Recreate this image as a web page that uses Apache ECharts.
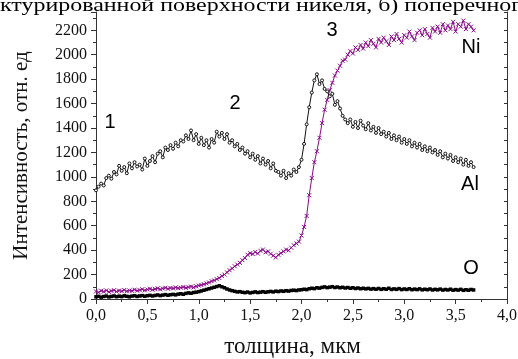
<!DOCTYPE html>
<html><head><meta charset="utf-8">
<script src="https://cdn.jsdelivr.net/npm/echarts@6/dist/echarts.min.js"></script>
<style>html,body{margin:0;padding:0;background:#fff}#c{width:518px;height:359px}</style>
</head><body><div id="c"></div>
<script>
// depth sampling step (µm); values below are read at depth = index * step
const depthStep = 0.025;
const xTicks = ['0,0','0,5','1,0','1,5','2,0','2,5','3,0','3,5','4,0'];
const yTicks = [0,200,400,600,800,1000,1200,1400,1600,1800,2000,2200];
const labels = ['1','2','3','Ni','Al','O'];

const alValues = [890,920,945,930,990,1010,985,1040,1020,1090,1050,1080,1030,1110,1070,1120,1085,1100,1060,1150,
1090,1130,1170,1120,1190,1210,1160,1240,1220,1260,1230,1280,1250,1300,1290,1340,1310,1380,1300,1350,
1270,1320,1260,1300,1240,1310,1280,1370,1330,1360,1310,1350,1280,1300,1250,1270,1220,1240,1190,1210,
1160,1190,1140,1170,1110,1150,1100,1130,1070,1110,1050,1040,1010,1050,990,1030,1010,1060,1040,1080,
1140,1270,1430,1570,1690,1790,1840,1760,1790,1720,1700,1660,1680,1590,1620,1560,1500,1470,1440,1470,
1410,1450,1400,1460,1420,1390,1440,1380,1410,1360,1400,1350,1370,1330,1360,1310,1340,1300,1330,1280,
1310,1270,1300,1250,1280,1240,1270,1220,1250,1210,1240,1200,1220,1180,1210,1160,1190,1150,1180,1130,
1160,1120,1150,1100,1140,1090,1120,1080];

const niValues = [62,55,68,60,70,58,66,72,61,69,64,74,63,70,67,76,68,73,80,71,
78,84,75,82,88,79,86,92,84,90,87,95,89,93,98,91,97,102,95,104,
110,115,121,128,135,146,152,163,172,188,200,218,236,250,268,282,296,318,335,362,
375,368,385,372,395,405,382,390,370,355,340,362,375,390,405,398,420,440,455,470,
520,590,680,850,990,1120,1210,1320,1440,1550,1630,1710,1770,1830,1870,1910,1950,1960,2000,2030,
2010,2060,2040,2080,2050,2100,2070,2120,2090,2060,2130,2100,2140,2110,2080,2150,2120,2170,2130,2100,
2160,2140,2190,2150,2120,2180,2200,2160,2210,2170,2140,2220,2190,2230,2180,2250,2200,2240,2210,2270,
2190,2250,2230,2280,2210,2250,2230,2200];

const oValues = [18,22,15,20,24,17,21,25,19,23,20,26,22,18,24,27,21,25,28,23,
27,30,25,29,33,28,32,36,31,35,38,34,40,43,39,46,50,47,53,56,
60,66,72,78,84,90,96,102,108,100,92,82,74,68,63,58,60,55,52,57,
50,54,58,53,56,60,55,59,62,58,64,61,66,63,68,65,70,72,69,74,
76,80,77,84,88,85,92,89,95,99,93,97,101,94,98,92,96,90,94,88,
92,86,90,84,88,83,87,81,85,80,86,79,84,80,88,78,83,79,85,77,
82,78,84,76,81,77,83,75,80,76,82,74,79,75,81,73,78,74,80,72,
77,73,79,71,76,72,78,74];

function pairs(vals){ return vals.map((v,i)=>[+(i*depthStep).toFixed(3), v]); }

const purple = '#8b0a8b';
const serif = '"Liberation Serif","Times New Roman",serif';
const sans = '"Liberation Sans",Arial,sans-serif';

const chart = echarts.init(document.getElementById('c'));
const xLabelMap = {}; xTicks.forEach((t,i)=>{ xLabelMap[(i*0.5).toFixed(1)] = t; });

function annot(text, x, y){
  return {type:'text', x:x, y:y, z:100,
    style:{text:text, font:'20px '+sans, fill:'#000', align:'center', verticalAlign:'middle', textAlign:'center', textVerticalAlign:'middle'}};
}

chart.setOption({
  animation:false,
  backgroundColor:'#fff',
  grid:{left:96, right:11, top:12, bottom:60, containLabel:false, outerBoundsMode:'none'},
  xAxis:{type:'value', min:0, max:4, interval:0.5,
    axisLine:{lineStyle:{color:'#333', width:1}},
    axisTick:{show:true, length:5, lineStyle:{color:'#333'}},
    minorTick:{show:true, splitNumber:2, length:3, lineStyle:{color:'#333'}},
    splitLine:{show:false},
    axisLabel:{margin:9, color:'#111', fontFamily:serif, fontSize:16,
      formatter:v=>xLabelMap[v.toFixed(1)] || ''},
    name:'толщина, мкм', nameLocation:'middle', nameGap:36,
    nameTextStyle:{fontFamily:serif, fontSize:23, color:'#111', padding:[0,18,0,0]}
  },
  yAxis:[{type:'value', min:0, max:2350, interval:200,
    axisLine:{show:true, lineStyle:{color:'#333', width:1}},
    axisTick:{show:true, length:5, lineStyle:{color:'#333'}},
    minorTick:{show:true, splitNumber:2, length:3, lineStyle:{color:'#333'}},
    splitLine:{show:false},
    axisLabel:{margin:9, color:'#111', fontFamily:serif, fontSize:16, showMaxLabel:false,
      formatter:v=> yTicks.indexOf(v)>=0 ? String(v) : ''},
    name:'Интенсивность, отн. ед', nameLocation:'middle', nameGap:64,
    nameTextStyle:{fontFamily:serif, fontSize:21, color:'#111'}
  },{type:'value', position:'right', min:0, max:2350, interval:100,
    axisLine:{show:true, lineStyle:{color:'#333', width:1}},
    axisTick:{show:true, inside:true, length:3, lineStyle:{color:'#333'}},
    axisLabel:{show:false}, splitLine:{show:false}
  }],
  graphic:[
    {type:'text', x:0, y:6, scaleX:1.33, scaleY:1, z:100,
      style:{text:'ктурированной поверхности никеля, б) поперечного сечения', font:'18px '+serif, fill:'#000',
        align:'left', verticalAlign:'middle', textAlign:'left', textVerticalAlign:'middle'}},
    annot(labels[0],110,122), annot(labels[1],235,103), annot(labels[2],332,30),
    annot(labels[3],471,47), annot(labels[4],470,184), annot(labels[5],471,268)
  ],
  series:[
    {name:'Ni', type:'line', data:pairs(niValues), yAxisIndex:0,
      symbol:'path://M0 0L10 10M10 0L0 10', symbolSize:4, showAllSymbol:true,
      lineStyle:{color:purple, width:1},
      itemStyle:{color:purple, borderColor:purple, borderWidth:1}},
    {name:'Al', type:'line', data:pairs(alValues), yAxisIndex:0,
      symbol:'circle', symbolSize:3, showAllSymbol:true,
      lineStyle:{color:'#111', width:1},
      itemStyle:{color:'#fff', borderColor:'#111', borderWidth:1}},
    {name:'O', type:'line', data:pairs(oValues), yAxisIndex:0,
      symbol:'rect', symbolSize:3.5, showAllSymbol:true,
      lineStyle:{color:'#000', width:1.5},
      itemStyle:{color:'#000', borderColor:'#000', borderWidth:0}}
  ]
});
</script></body></html>
